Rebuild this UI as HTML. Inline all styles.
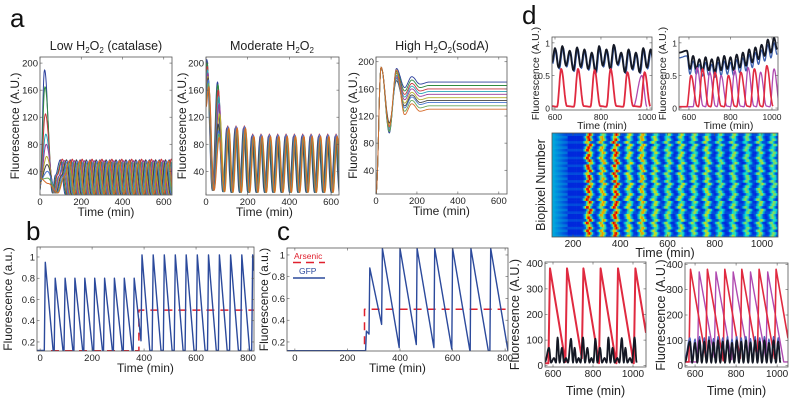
<!DOCTYPE html>
<html><head><meta charset="utf-8"><style>
body{margin:0;background:#fff;}
svg{display:block;font-family:"Liberation Sans",Arial,sans-serif;}
</style></head><body>
<svg id="fig" width="800" height="403" viewBox="0 0 800 403" xmlns="http://www.w3.org/2000/svg"></svg>
<script>
// ---------- DATA ----------
const aColors = ['#2b3f9c','#2f8a40','#c8343c','#2aa6b6','#9a3c9c','#b5ad2c','#444444','#4a78d0','#63a85a','#d66a2a'];
// panel a1 (low H2O2)
const a1FirstPeak = [190,165,125,95,80,62,50,40,30,22];
const a1Phase = [0,5,10,15,20,25,30,35,40,45];
const a1Amp = [57,55,58,54,56,53,57,55,52,56];
// panel a2 (moderate)
const a2Peak1 = [205,200,195,190,185,180,178,175,170,165];
const a2Peak2 = [172,168,160,150,140,125,110,100,95,90];
const a2Amp = [92,90,95,88,93,91,89,94,90,92];
const a2Phase = [0,2,4,6,8,10,3,5,7,9];
// panel a3 (high)
const a3Trough1 = [95,98,100,103,105,108,110,100,97,104];
const a3Peak2 = [190,186,183,180,178,175,172,176,184,188];
const a3Steady = [170,165,160,156,152,147,143,140,135,130];
// panel b
const bPulseTimes = [20,58,96,134,172,210,248,286,324,362,392,435,478,520,562,605,648,690,733,776,818];
const bPulseHeights = [0.95,0.8,0.8,0.8,0.8,0.8,0.8,0.8,0.8,0.8,1.02,1.02,1.02,1.02,1.02,1.02,1.02,1.02,1.02,1.02,1.02];
const bArsenicTimes = [-12,380,380,823];
const bArsenicVals = [0.118,0.118,0.5,0.5];
// panel c
const cPulseTimes = [272,285,333,400,465,532,600,670,745,820];
const cPulseHeights = [0.3,0.88,1.06,1.06,1.06,1.06,1.06,1.06,1.06,1.06];
const cArsenicTimes = [-30,265,265,811];
const cArsenicVals = [0.12,0.12,0.5,0.5];
// panel d top-left
const dtlBlackPeaks = [600,632,664,696,728,760,792,824,856,888,920,952,984,1016];
const dtlBlackHigh = [0.92,0.95,0.88,0.93,0.9,0.85,0.95,0.9,0.97,0.85,0.9,0.85,0.92,0.9];
const dtlRedPeaks = [627,700,772,842,915,990];
const dtlRedHeights = [0.6,0.6,0.58,0.6,0.55,0.55];
// panel d top-right
const dtrBlackPeaks = [590,620,650,680,710,740,770,800,830,860,890,920,950,980,1010];
const dtrBlackHigh = [0.88,0.8,0.75,0.78,0.75,0.78,0.8,0.78,0.82,0.85,0.9,0.93,0.97,1.05,1.08];
const dtrBlackLow = [0.6,0.6,0.57,0.58,0.55,0.58,0.6,0.58,0.62,0.65,0.7,0.75,0.8,0.85,0.9];
const dtrRedPeaks = [610,665,725,790,850,915,975];
const dtrRedHeights = [0.5,0.6,0.55,0.5,0.55,0.6,0.65];
const dtrMagPeaks = [640,700,755,820,885,945,1010];
const dtrMagHeights = [0.62,0.55,0.5,0.58,0.62,0.55,0.6];
// heatmap
const hmPulseTimes = [265,322,378,435,490,545,600,655,710,765,820,878,935,990,1045];
const hmPulseStrength = [1.0,0.75,1.0,0.65,0.75,0.6,0.55,0.6,0.55,0.6,0.5,0.55,0.5,0.55,0.5];
const hmRowShift = [0,4,-3,6,2,-5,8,1,-2,5,10,-4,3,7,-6,0,9,2,-3,4,12,-1,6,3,-5,8,0,-2,11,5,-4,2,7,-3,1,9,-6,4,0,6];
// panel d bottom-left
const dblRedPeaks = [585,670,752,838,925,1012];
const dblBlackPeaks = [580,605,623,645,665,690,708,728,750,772,792,812,835,858,877,898,922,944,962,985,1008];
const dblBlackHeights = [70,30,110,70,30,105,70,30,110,70,30,105,70,30,110,70,30,108,70,30,110];
// panel d bottom-right
const dbrRedPeaks = [578,660,745,828,912,995];
const dbrMagPeaks = [620,702,786,870,954];
const dbrBlackPeaks = [575,600,622,645,668,690,712,735,758,780,803,825,848,870,893,915,938,960,983,1005];
const dbrBlackHeights = [95,90,100,95,100,92,100,95,100,90,100,95,100,92,100,95,100,90,100,95];

// ---------- HELPERS ----------
const NS='http://www.w3.org/2000/svg';
const fig=document.getElementById('fig');
function el(tag,attrs,parent){const e=document.createElementNS(NS,tag);for(const k in attrs)e.setAttribute(k,attrs[k]);(parent||fig).appendChild(e);return e;}
function txt(s,x,y,size,attrs,parent){const t=el('text',Object.assign({x:x,y:y,'font-size':size,fill:'#222'},attrs||{}),parent);t.textContent=s;return t;}
function makeAxes(p){
  p.sx=v=>p.x0+(v-p.xd[0])/(p.xd[1]-p.xd[0])*(p.x1-p.x0);
  p.sy=v=>p.y1-(v-p.yd[0])/(p.yd[1]-p.yd[0])*(p.y1-p.y0);
  const g=el('g',{});
  
  
  const cid='clip-'+p.name;
  const cp=el('clipPath',{id:cid},g);el('rect',{x:p.x0,y:p.y0,width:p.x1-p.x0,height:p.y1-p.y0},cp);
  p.g=el('g',{'clip-path':'url(#'+cid+')'},g);
  p.outer=g;
  return p;
}
function frame(p){
  const g=p.outer;
  const fr=el('rect',{x:p.x0,y:p.y0,width:p.x1-p.x0,height:p.y1-p.y0,fill:'none',stroke:'#555','stroke-width':0.8},g);
  
  
  const fs=p.tickFs||9.5;
  (p.xt||[]).forEach(v=>{const x=p.sx(v);
    el('line',{x1:x,x2:x,y1:p.y1,y2:p.y1-2.5,stroke:'#555','stroke-width':0.6},g);
    el('line',{x1:x,x2:x,y1:p.y0,y2:p.y0+2.5,stroke:'#555','stroke-width':0.6},g);
    const t=txt(String(v),x,p.y1+10,fs,{'text-anchor':'middle'},g);
    
    });
  (p.yt||[]).forEach(v=>{const y=p.sy(v);
    el('line',{x1:p.x0,x2:p.x0+2.5,y1:y,y2:y,stroke:'#555','stroke-width':0.6},g);
    el('line',{x1:p.x1,x2:p.x1-2.5,y1:y,y2:y,stroke:'#555','stroke-width':0.6},g);
    const t=txt(String(v),p.x0-2,y+3.5,fs,{'text-anchor':'end'},g);
    
    });
  if(p.xlabel){const t=txt(p.xlabel,(p.x0+p.x1)/2+(p.xlOff||0),p.xlY||p.y1+21,p.lblFs||12,{'text-anchor':'middle'},g);
    
    }
  if(p.ylabel){const cx=p.ylX||p.x0-24, cy=(p.y0+p.y1)/2;
    const t=txt(p.ylabel,cx,cy,p.lblFs||12,{'text-anchor':'middle',transform:'rotate(-90 '+cx+' '+cy+')'},g);
    
    }
}
function smoothPts(kp){const out=[];for(let i=0;i<kp.length-1;i++){const[a,va]=kp[i],[b,vb]=kp[i+1];const n=Math.max(2,Math.ceil((b-a)/2));
  for(let k=0;k<n;k++){const f=k/n;const w=(1-Math.cos(Math.PI*f))/2;out.push([a+(b-a)*f,va+(vb-va)*w]);}}out.push(kp[kp.length-1]);return out;}
function polyline(p,pts,color,w,name,extra){const d=pts.map((q,i)=>(i?'L':'M')+p.sx(q[0]).toFixed(1)+' '+p.sy(q[1]).toFixed(1)).join('');
  const e=el('path',Object.assign({d:d,fill:'none',stroke:color,'stroke-width':w,'stroke-linejoin':'round'},extra||{}),p.g);
  
  return e;}
function sawPts(times,heights,floor,rise,dur,tStart,tEnd){const kp=[[tStart,floor]];
  times.forEach((t,i)=>{const h=heights[i];const nextT=i<times.length-1?times[i+1]-rise:tEnd;
    kp.push([t-rise,Math.max(floor,kp[kp.length-1][1])]);kp.push([t,h]);
    const endT=Math.min(t+dur,nextT);const v=h-(h-floor)*(endT-t)/dur;kp.push([endT,v]);
    if(endT<nextT)kp.push([nextT,floor]);});
  return kp;}
function label(s,x,y,size,name){const t=txt(s,x,y,size,{'fill':'#111'});
  
  return t;}

// ---------- PANEL A ----------
label('a',10,27,26,'panel-label-a');
function titleSub(x,y,parts,name){const t=el('text',{x:x,y:y,'font-size':12.5,fill:'#222','text-anchor':'middle'});
  
  
  parts.forEach(pp=>{const s=el('tspan',pp[1]?{'font-size':8,dy:3}:{dy:pp[2]||0},t);s.textContent=pp[0];});}
titleSub(106,50,[['Low H'],['2',1],['O',0,-3],['2',1],[' (catalase)',0,-3]],'title-low-h2o2');
titleSub(272,50,[['Moderate H'],['2',1],['O',0,-3],['2',1]],'title-moderate-h2o2');
titleSub(442,50,[['High H'],['2',1],['O',0,-3],['2',1],['(sodA)',0,-3]],'title-high-h2o2');

const A1=makeAxes({name:'chart-low-h2o2',x0:40,x1:172,y0:57,y1:195,xd:[0,640],yd:[5,209],xt:[0,200,400,600],yt:[40,80,120,160,200],xlabel:'Time (min)',ylabel:'Fluorescence (A.U.)',ylX:19});
a1FirstPeak.forEach((pk,i)=>{const kp=[[0,12+i*2],[22+i*2,pk],[60+i*3,8]];
  let t=60+i*3;const per=48;let hi=true;
  kp.push([t+per*0.3+a1Phase[i]*0.4,a1Amp[i]*0.6]);t=t+per*0.3+a1Phase[i]*0.4;
  while(t<650){t+=per/2;kp.push([t,hi?a1Amp[i]:6]);hi=!hi;}
  polyline(A1,smoothPts(kp),aColors[i],1,'series-low-'+i);});
frame(A1);

const A2=makeAxes({name:'chart-moderate-h2o2',x0:206,x1:339,y0:57,y1:195,xd:[0,638],yd:[5,209],xt:[0,200,400,600],yt:[40,80,120,160,200],xlabel:'Time (min)',ylabel:'Fluorescence (A.U.)',ylX:186,xlOff:-8});
a2Peak1.forEach((pk,i)=>{const kp=[[0,pk-30],[4+i,pk],[30+i,12],[55+a2Phase[i],a2Peak2[i]],[80+a2Phase[i],10]];
  let t=80+a2Phase[i];const per=40;let hi=true;
  while(t<650){t+=per/2;kp.push([t,hi?a2Amp[i]+(t<200?12:0):9]);hi=!hi;}
  polyline(A2,smoothPts(kp),aColors[i],1.1,'series-moderate-'+i);});
frame(A2);

const A3=makeAxes({name:'chart-high-h2o2',x0:376,x1:507,y0:57,y1:194,xd:[0,640],yd:[5,207],xt:[0,200,400,600],yt:[40,80,120,160,200],xlabel:'Time (min)',ylabel:'Fluorescence (A.U.)',ylX:357});
a3Steady.forEach((s,i)=>{const kp=[[0,5],[25,192],[65,a3Trough1[i]],[100,a3Peak2[i]],[140,s-8],[175,s+8],[215,s-3],[260,s],[640,s]];
  polyline(A3,smoothPts(kp),aColors[i],0.9,'series-high-'+i);});
frame(A3);

// ---------- PANEL B ----------
label('b',26,240,26,'panel-label-b');
const B=makeAxes({name:'chart-b',x0:37,x1:254,y0:247,y1:351,xd:[-12,823],yd:[0.115,1.094],xt:[0,200,400,600,800],yt:[0.2,0.4,0.6,0.8,1],xlabel:'Time (min)',ylabel:'Fluorescence (a.u.)',ylX:12,xlY:372});
polyline(B,bArsenicTimes.map((t,i)=>[t,bArsenicVals[i]]),'#e0202e',1.5,'arsenic-line-b',{'stroke-dasharray':'8,6'});
polyline(B,sawPts(bPulseTimes,bPulseHeights,0.12,4,30,-12,823),'#2c4a9c',1.4,'gfp-line-b');
frame(B);

// ---------- PANEL C ----------
label('c',277,240,26,'panel-label-c');
const C=makeAxes({name:'chart-c',x0:287,x1:508,y0:248,y1:351,xd:[-30,811],yd:[0.117,1.064],xt:[0,200,400,600,800],yt:[0.2,0.4,0.6,0.8,1],xlabel:'Time (min)',ylabel:'Fluorescence (a.u.)',ylX:268,xlY:372});
polyline(C,cArsenicTimes.map((t,i)=>[t,cArsenicVals[i]]),'#e0202e',1.5,'arsenic-line-c',{'stroke-dasharray':'8,6'});
polyline(C,sawPts(cPulseTimes,cPulseHeights,0.12,3,66,-30,811),'#2c4a9c',1.4,'gfp-line-c');
frame(C);
{const lg=el('g',{});
 const t1=txt('Arsenic',294,259,8.5,{fill:'#e0202e'},lg);
 el('line',{x1:293,x2:325,y1:262.5,y2:262.5,stroke:'#e0202e','stroke-width':1.5,'stroke-dasharray':'8,5'},lg);
 const t2=txt('GFP',299,274,8.5,{fill:'#2c4a9c'},lg);
 el('line',{x1:293,x2:325,y1:278,y2:278,stroke:'#2c4a9c','stroke-width':1.5},lg);}

// ---------- PANEL D ----------
label('d',522,24,26,'panel-label-d');
const DTL=makeAxes({name:'chart-d-top-left',x0:552,x1:652,y0:37,y1:110,xd:[587,1022],yd:[-0.03,1.09],xt:[600,800,1000],yt:[0,0.5,1],xlabel:'Time (min)',ylabel:'Fluorescence (A.U.)',ylX:539,xlY:129,tickFs:8.5,lblFs:10.5});
{const kb=[[587,0.7]];dtlBlackPeaks.forEach((t,i)=>{kb.push([t,dtlBlackHigh[i]]);kb.push([t+16,dtlBlackHigh[i]-0.3]);});
 polyline(DTL,smoothPts(kb.map(q=>[q[0]+3,q[1]-0.02])),'#3b5fb0',1.3,'blue-line-dtl');
 polyline(DTL,smoothPts(kb),'#141824',1.8,'black-line-dtl');
 const kr=[[587,0.03]];dtlRedPeaks.forEach((t,i)=>{kr.push([t-18,0.02]);kr.push([t,dtlRedHeights[i]]);kr.push([t+25,0.03]);});
 polyline(DTL,smoothPts([[940,0.02],[978,0.5],[1000,0.02]]),'#b04ab0',1.3,'magenta-line-dtl');
 polyline(DTL,smoothPts(kr),'#e02a40',1.8,'red-line-dtl');}
frame(DTL);

const DTR=makeAxes({name:'chart-d-top-right',x0:679,x1:778,y0:37,y1:110,xd:[552,1029],yd:[-0.03,1.09],xt:[600,800,1000],yt:[0,0.5,1],xlabel:'Time (min)',ylabel:'Fluorescence (A.U.)',ylX:666,xlY:129,tickFs:8.5,lblFs:10.5});
{const kb=[[552,0.85]];dtrBlackPeaks.forEach((t,i)=>{kb.push([t,dtrBlackHigh[i]]);kb.push([t+15,dtrBlackLow[i]]);});
 polyline(DTR,smoothPts(kb.map(q=>[q[0],q[1]-0.08])),'#3b5fb0',1.3,'blue-line-dtr');
 polyline(DTR,smoothPts(kb),'#141824',1.8,'black-line-dtr');
 const km=[[552,0.02]];dtrMagPeaks.forEach((t,i)=>{km.push([t-20,0.02]);km.push([t,dtrMagHeights[i]]);km.push([t+28,0.03]);});
 polyline(DTR,smoothPts(km),'#b04ab0',1.3,'magenta-line-dtr');
 const kr=[[552,0.02]];dtrRedPeaks.forEach((t,i)=>{kr.push([t-20,0.02]);kr.push([t,dtrRedHeights[i]]);kr.push([t+30,0.03]);});
 polyline(DTR,smoothPts(kr),'#e02a40',1.6,'red-line-dtr');}
frame(DTR);

// heatmap
const HM=makeAxes({name:'heatmap-biopixels',x0:552,x1:778,y0:133,y1:237,xd:[111,1068],yd:[0,40],xt:[200,400,600,800,1000],yt:[],xlabel:'Time (min)',ylabel:'Biopixel Number',ylX:545,xlY:257,tickFs:10,lblFs:12.5});
function jet(v){v=Math.max(0,Math.min(1,v));const r=Math.max(0,Math.min(1,1.5-Math.abs(4*v-3))),g=Math.max(0,Math.min(1,1.5-Math.abs(4*v-2))),b=Math.max(0,Math.min(1,1.5-Math.abs(4*v-1)));
  return 'rgb('+Math.round(r*230)+','+Math.round(g*220)+','+Math.round(b*220)+')';}
{const step=6;
 hmRowShift.forEach((sh,r)=>{for(let t=111;t<1068;t+=step){let v=0.17+((r%3===0)?0.04:0);
   if(t<175)v=0.32-(t-111)*0.002*(r%2?1:0.6);
   hmPulseTimes.forEach((pt,j)=>{const d=t+step/2-(pt+sh);const s=hmPulseStrength[j]*(((r+j)%4===0)?0.7:1);v=Math.max(v,0.17+s*0.72*Math.exp(-d*d/(2*9*9)));});
   const c=el('rect',{x:HM.sx(t).toFixed(2),y:HM.sy(r+1).toFixed(2),width:(HM.sx(t+step)-HM.sx(t)+0.3).toFixed(2),height:(HM.sy(r)-HM.sy(r+1)+0.3).toFixed(2),fill:jet(v)},HM.g);
   
   }});}
frame(HM);

const DBL=makeAxes({name:'chart-d-bottom-left',x0:545,x1:646,y0:262,y1:367,xd:[560,1065],yd:[-5,405],xt:[600,800,1000],yt:[0,100,200,300,400],xlabel:'Time (min)',ylabel:'Fluorescence (A.U.)',ylX:519,xlY:395,tickFs:10,lblFs:12.5});
polyline(DBL,sawPts(dblRedPeaks,dblRedPeaks.map(()=>380),10,8,78,560,1065),'#e02a40',2,'red-line-dbl');
{const kb=[[560,15]];dblBlackPeaks.forEach((t,i)=>{kb.push([t,dblBlackHeights[i]]);kb.push([t+10,12]);});
 polyline(DBL,smoothPts(kb),'#141824',1.8,'black-line-dbl');}
frame(DBL);

const DBR=makeAxes({name:'chart-d-bottom-right',x0:685,x1:788,y0:263,y1:367,xd:[551,1053],yd:[-5,405],xt:[600,800,1000],yt:[0,100,200,300,400],xlabel:'Time (min)',ylabel:'Fluorescence (A.U.)',ylX:665,xlY:395,tickFs:10,lblFs:12.5});
polyline(DBR,sawPts(dbrMagPeaks,dbrMagPeaks.map(()=>370),15,8,78,551,1053),'#b04ab0',1.4,'magenta-line-dbr');
polyline(DBR,sawPts(dbrRedPeaks,dbrRedPeaks.map(()=>380),15,8,78,551,1053),'#e02a40',1.6,'red-line-dbr');
{const kb=[[551,15]];dbrBlackPeaks.forEach((t,i)=>{kb.push([t,dbrBlackHeights[i]]);kb.push([t+11,12]);});
 polyline(DBR,smoothPts(kb.map(q=>[q[0],q[1]+15])),'#5060b8',1.3,'blue-line-dbr');
 polyline(DBR,smoothPts(kb),'#141824',1.8,'black-line-dbr');}
frame(DBR);
</script>
</body></html>
